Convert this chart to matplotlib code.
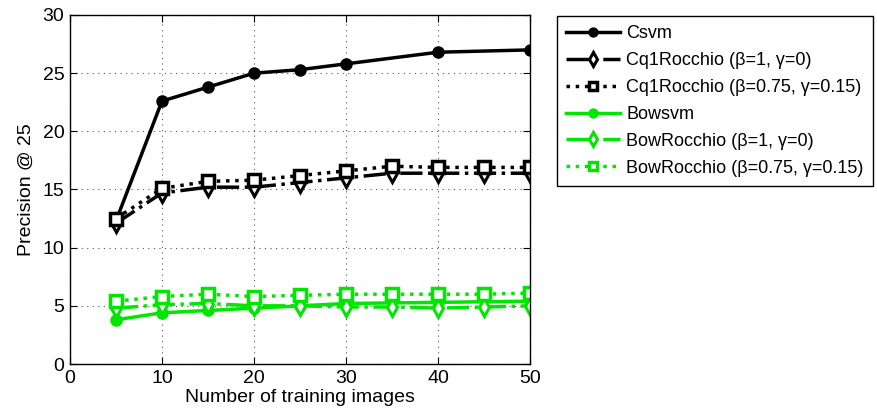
import matplotlib
matplotlib.use('Agg')
import matplotlib.pyplot as plt

plt.rcParams['font.family'] = ['Liberation Sans', 'DejaVu Sans']

x_svm = [5, 10, 15, 20, 25, 30, 40, 50]
x_roc = [5, 10, 15, 20, 25, 30, 35, 40, 45, 50]

csvm = [12.3, 22.6, 23.8, 25.0, 25.3, 25.8, 26.8, 27.0]
cq1_b1 = [12.1, 14.7, 15.2, 15.2, 15.6, 16.0, 16.4, 16.4, 16.4, 16.4]
cq1_b075 = [12.5, 15.1, 15.7, 15.8, 16.2, 16.6, 17.0, 16.9, 16.9, 16.9]
bowsvm = [3.8, 4.4, 4.6, 4.8, 5.0, 5.2, 5.3, 5.4]
bow_b1 = [4.8, 5.1, 5.2, 5.0, 5.0, 4.9, 4.9, 4.8, 4.9, 5.0]
bow_b075 = [5.4, 5.8, 6.0, 5.8, 5.9, 6.0, 6.0, 6.0, 6.0, 6.1]

labels = ['Csvm', 'Cq1Rocchio (β=1, γ=0)', 'Cq1Rocchio (β=0.75, γ=0.15)',
          'Bowsvm', 'BowRocchio (β=1, γ=0)', 'BowRocchio (β=0.75, γ=0.15)']

green = '#00e600'

fig = plt.figure(figsize=(8.78, 4.12), dpi=100)
ax = fig.add_axes([0.0797, 0.1165, 0.5239, 0.8471])

lw = 2.5
ax.plot(x_svm, csvm, '-', color='k', lw=lw, marker='o', ms=8, label=labels[0])
ax.plot(x_roc, cq1_b1, '-.', color='k', lw=lw, marker='d', ms=9, mfc='white', mew=2.2, label=labels[1])
ax.plot(x_roc, cq1_b075, ':', color='k', lw=lw, marker='s', ms=8, mfc='white', mew=2.5, label=labels[2])
ax.plot(x_svm, bowsvm, '-', color=green, lw=lw, marker='o', ms=8, label=labels[3])
ax.plot(x_roc, bow_b1, '-.', color=green, lw=lw, marker='d', ms=9, mfc='white', mew=2.2, label=labels[4])
ax.plot(x_roc, bow_b075, ':', color=green, lw=lw, marker='s', ms=8, mfc='white', mew=2.5, label=labels[5])

ax.set_xlim(0, 50)
ax.set_ylim(0, 30)
ax.set_xticks(range(0, 51, 10))
ax.set_yticks(range(0, 31, 5))
ax.grid(True, linestyle=(0, (1, 4)), color='#555555', lw=0.8)
ax.tick_params(direction='in', labelsize=14, top=True, right=True, length=5, pad=4)
ax.set_xlabel('Number of training images', fontsize=14, labelpad=2)
ax.set_ylabel('Precision @ 25', fontsize=14, labelpad=6)
for s in ax.spines.values():
    s.set_linewidth(1.0)

leg = fig.legend(loc='upper left', bbox_to_anchor=(0.634, 0.961), fontsize=13,
                 handlelength=3.0, handletextpad=0.35, labelspacing=0.55,
                 borderpad=0.5, borderaxespad=0, fancybox=False, edgecolor='k',
                 framealpha=1, markerscale=0.8)
leg.get_frame().set_linewidth(1.0)

fig.savefig('out.png', dpi=100)
